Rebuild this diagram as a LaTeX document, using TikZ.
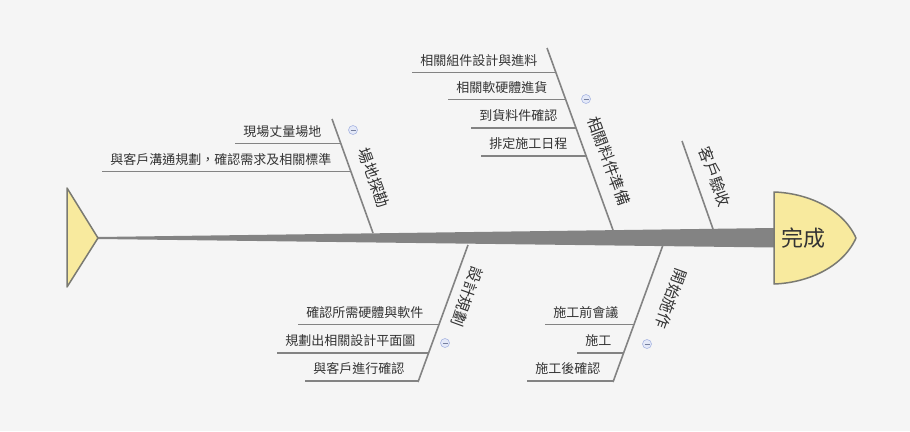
\documentclass[tikz,border=0pt]{standalone}
\usepackage{fontspec}
\setmainfont{Noto Sans CJK TC}
\usepackage{xcolor}
\usepackage{tikz}
\usetikzlibrary{positioning,calc}

\definecolor{bg}{HTML}{F5F5F5}
\definecolor{txt}{HTML}{333333}
\definecolor{bonegray}{HTML}{838383}
\definecolor{capfill}{HTML}{F8EA9E}
\definecolor{capline}{HTML}{7A7A72}
\definecolor{foldfill}{HTML}{E4E9F8}
\definecolor{foldline}{HTML}{A8B6E2}

\begin{document}
\begin{tikzpicture}[x=1pt, y=-1pt, thick]
    % Styles
    \tikzstyle{spine} = [fill=bonegray]
    \tikzstyle{bone} = [draw=bonegray, line width=1.6pt]
    \tikzstyle{twig} = [draw=bonegray, line width=1.6pt]
    \tikzstyle{cause} = [font=\fontsize{15.5}{17}\selectfont, text=txt, inner sep=0pt]
    \tikzstyle{itemtext} = [font=\fontsize{13}{15}\selectfont, text=txt, anchor=west, inner sep=0pt]
    \tikzstyle{endcap} = [draw=capline, fill=capfill, line width=1.5pt, line join=round]
    \tikzstyle{fold} = [circle, draw=foldline, fill=foldfill, minimum size=9pt, inner sep=0pt, line width=0.6pt,
        path picture={\draw[foldline!70!black, line width=0.7pt] ([xshift=-2.5pt]path picture bounding box.center) -- ([xshift=2.5pt]path picture bounding box.center);}]

    % Canvas
    \fill[bg] (0,0) rectangle (910,431);
    \useasboundingbox (0,0) rectangle (910,431);

    % Spine, tail and head
    \coordinate (tail) at (98,238);
    \coordinate (head) at (774,238);
    \fill[spine] ($(tail)+(0,-1)$) -- ($(head)+(0,-10)$) -- ($(head)+(0,9.5)$) -- ($(tail)+(0,1)$) -- cycle;
    \draw[endcap] (67,188) -- (tail) -- (67,287) -- cycle;
    \draw[endcap] (774,192) .. controls (805,193) and (842,207) .. (856,238)
        .. controls (842,269) and (805,283) .. (774,284) -- cycle;
    \node[font=\fontsize{22}{25}\selectfont, text=txt] (done) at (803,238) {完成};

    % Bones above the spine
    \coordinate (siteA) at (332,119);  \coordinate (siteB) at (373,233);
    \coordinate (partA) at (547,48);   \coordinate (partB) at (613,230);
    \coordinate (acptA) at (682,141);  \coordinate (acptB) at (713,229);
    \draw[bone] (siteA) -- (siteB);
    \draw[bone] (partA) -- (partB);
    \draw[bone] (acptA) -- (acptB);

    % Bones below the spine
    \coordinate (planA) at (468,245);  \coordinate (planB) at (418,382);
    \coordinate (workA) at (663,245);  \coordinate (workB) at (613,382);
    \draw[bone] (planA) -- (planB);
    \draw[bone] (workA) -- (workB);

    % Causes
    \node[cause, rotate=-70] (site) at (374,178) {場地探勘};
    \node[cause, rotate=-70] (part) at (609,161) {相關料件準備};
    \node[cause, rotate=-70] (acpt) at (715,177) {客戶驗收};
    \node[cause, rotate=-110] (plan) at (467,297) {設計規劃};
    \node[cause, rotate=-110] (work) at (671,299) {開始施作};

    % Site
    \coordinate (site1) at (235,143.5);  \coordinate (site1e) at (340.8,143.5);
    \coordinate (site2) at (102,171.5);  \coordinate (site2e) at (350.9,171.5);
    \draw[twig] (site1) -- (site1e);
    \draw[twig] (site2) -- (site2e);
    \node[itemtext] (site1t) at ($(site1)+(8,-11.7)$) {現場丈量場地};
    \node[itemtext] (site2t) at ($(site2)+(8,-11.7)$) {與客戶溝通規劃，確認需求及相關標準};

    % Parts
    \coordinate (part1) at (412,72.3);   \coordinate (part1e) at (555.8,72.3);
    \coordinate (part2) at (448,99.3);   \coordinate (part2e) at (565.6,99.3);
    \coordinate (part3) at (471,127.7);  \coordinate (part3e) at (575.9,127.7);
    \coordinate (part4) at (481,155.7);  \coordinate (part4e) at (586.1,155.7);
    \draw[twig] (part1) -- (part1e);
    \draw[twig] (part2) -- (part2e);
    \draw[twig] (part3) -- (part3e);
    \draw[twig] (part4) -- (part4e);
    \node[itemtext] (part1t) at ($(part1)+(8,-11.7)$) {相關組件設計與進料};
    \node[itemtext] (part2t) at ($(part2)+(8,-11.7)$) {相關軟硬體進貨};
    \node[itemtext] (part3t) at ($(part3)+(8,-11.7)$) {到貨料件確認};
    \node[itemtext] (part4t) at ($(part4)+(8,-11.7)$) {排定施工日程};

    % Plan
    \coordinate (plan1) at (298,324.3);  \coordinate (plan1e) at (439.1,324.3);
    \coordinate (plan2) at (277,352.7);  \coordinate (plan2e) at (428.7,352.7);
    \coordinate (plan3) at (305,380.7);  \coordinate (plan3e) at (418.5,380.7);
    \draw[twig] (plan1) -- (plan1e);
    \draw[twig] (plan2) -- (plan2e);
    \draw[twig] (plan3) -- (plan3e);
    \node[itemtext] (plan1t) at ($(plan1)+(8,-11.7)$) {確認所需硬體與軟件};
    \node[itemtext] (plan2t) at ($(plan2)+(8,-11.7)$) {規劃出相關設計平面圖};
    \node[itemtext] (plan3t) at ($(plan3)+(8,-11.7)$) {與客戶進行確認};

    % Work
    \coordinate (work1) at (545,324.3);  \coordinate (work1e) at (634.1,324.3);
    \coordinate (work2) at (577,352.7);  \coordinate (work2e) at (623.7,352.7);
    \coordinate (work3) at (527,380.7);  \coordinate (work3e) at (613.5,380.7);
    \draw[twig] (work1) -- (work1e);
    \draw[twig] (work2) -- (work2e);
    \draw[twig] (work3) -- (work3e);
    \node[itemtext] (work1t) at ($(work1)+(8,-11.7)$) {施工前會議};
    \node[itemtext] (work2t) at ($(work2)+(8,-11.7)$) {施工};
    \node[itemtext] (work3t) at ($(work3)+(8,-11.7)$) {施工後確認};

    % Fold marks
    \node[fold] (siteF) at (353,130) {};
    \node[fold] (partF) at (586,99) {};
    \node[fold] (planF) at (445,343) {};
    \node[fold] (workF) at (647,344) {};

\end{tikzpicture}
\end{document}
